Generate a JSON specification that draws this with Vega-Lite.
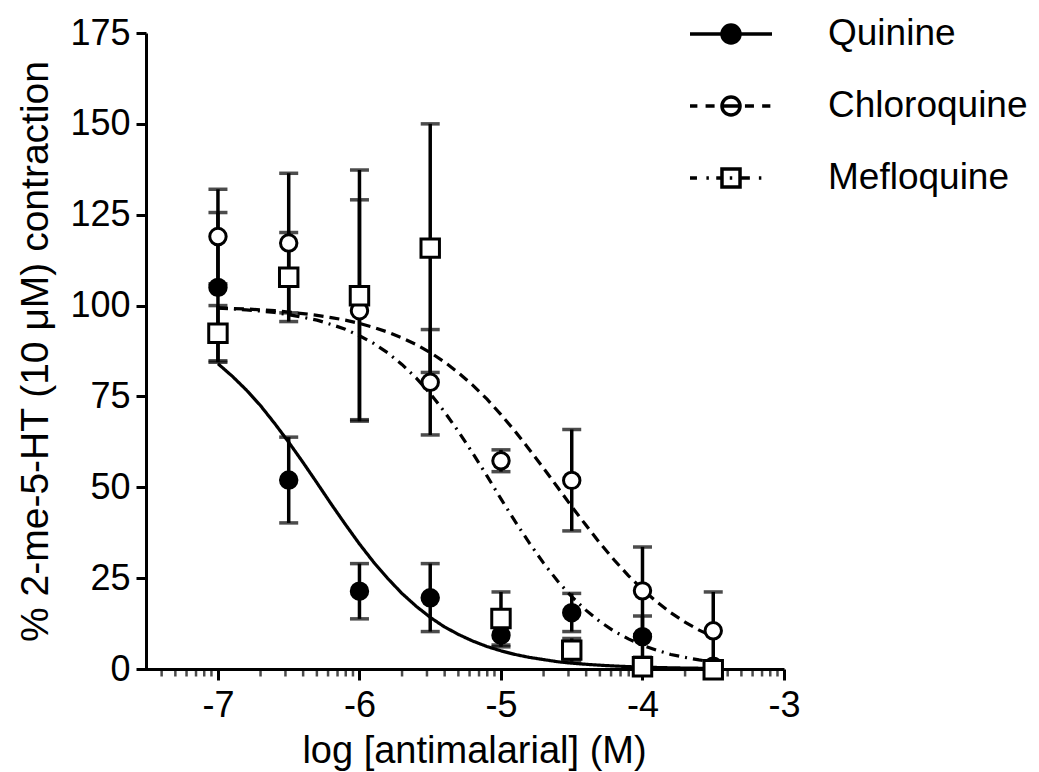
{
  "$schema": "https://vega.github.io/schema/vega-lite/v6.json",
  "autosize": {"type": "none"},
  "width": 646,
  "height": 636,
  "padding": {"left": 138, "top": 33, "right": 255, "bottom": 103},
  "background": "white",
  "config": {
    "view": {"stroke": null},
    "font": "Liberation Sans",
    "axis": {"grid": false, "domainColor": "black", "tickColor": "black", "labelColor": "black", "titleColor": "black", "labelFont": "Liberation Sans", "titleFont": "Liberation Sans", "titleFontWeight": "normal"}
  },
  "datasets": {
    "pts": [
      {"series": "Quinine", "x": -7, "y": 105, "lo": 84.4, "hi": 125.6},
      {"series": "Quinine", "x": -6.5, "y": 52, "lo": 40.2, "hi": 63.8},
      {"series": "Quinine", "x": -6, "y": 21.4, "lo": 13.8, "hi": 29.0},
      {"series": "Quinine", "x": -5.5, "y": 19.6, "lo": 10.3, "hi": 29.0},
      {"series": "Quinine", "x": -5, "y": 9.3, "lo": 6.1, "hi": 12.5},
      {"series": "Quinine", "x": -4.5, "y": 15.5, "lo": 10.3, "hi": 20.8},
      {"series": "Quinine", "x": -4, "y": 8.9, "lo": 3.2, "hi": 14.6},
      {"series": "Quinine", "x": -3.5, "y": 0.8, "lo": 0, "hi": 1.6},
      {"series": "Chloroquine", "x": -7, "y": 119, "lo": 106, "hi": 132},
      {"series": "Chloroquine", "x": -6.5, "y": 117.2, "lo": 98, "hi": 136.4},
      {"series": "Chloroquine", "x": -6, "y": 98.6, "lo": 68.6, "hi": 129.1},
      {"series": "Chloroquine", "x": -5.5, "y": 78.9, "lo": 64.4, "hi": 93.4},
      {"series": "Chloroquine", "x": -5, "y": 57.3, "lo": 54.3, "hi": 60.3},
      {"series": "Chloroquine", "x": -4.5, "y": 51.9, "lo": 38, "hi": 65.9},
      {"series": "Chloroquine", "x": -4, "y": 21.5, "lo": 9.4, "hi": 33.6},
      {"series": "Chloroquine", "x": -3.5, "y": 10.5, "lo": 0, "hi": 21.2},
      {"series": "Mefloquine", "x": -7, "y": 92.4, "lo": 84.8, "hi": 100},
      {"series": "Mefloquine", "x": -6.5, "y": 107.8, "lo": 95.6, "hi": 120.1},
      {"series": "Mefloquine", "x": -6, "y": 102.7, "lo": 68.2, "hi": 137.3},
      {"series": "Mefloquine", "x": -5.5, "y": 115.8, "lo": 81.6, "hi": 150},
      {"series": "Mefloquine", "x": -5, "y": 13.9, "lo": 6.6, "hi": 21.2},
      {"series": "Mefloquine", "x": -4.5, "y": 5.2, "lo": 2, "hi": 8.4},
      {"series": "Mefloquine", "x": -4, "y": 0.6, "lo": 0, "hi": 1.2},
      {"series": "Mefloquine", "x": -3.5, "y": -0.2, "lo": -0.2, "hi": -0.2}
    ],
    "minor": [
      {"x": -7.398}, {"x": -7.301}, {"x": -7.222}, {"x": -7.155}, {"x": -7.097}, {"x": -7.046},
      {"x": -6.699}, {"x": -6.523}, {"x": -6.398}, {"x": -6.301}, {"x": -6.222}, {"x": -6.155}, {"x": -6.097}, {"x": -6.046},
      {"x": -5.699}, {"x": -5.523}, {"x": -5.398}, {"x": -5.301}, {"x": -5.222}, {"x": -5.155}, {"x": -5.097}, {"x": -5.046},
      {"x": -4.699}, {"x": -4.523}, {"x": -4.398}, {"x": -4.301}, {"x": -4.222}, {"x": -4.155}, {"x": -4.097}, {"x": -4.046},
      {"x": -3.699}, {"x": -3.523}, {"x": -3.398}, {"x": -3.301}, {"x": -3.222}, {"x": -3.155}, {"x": -3.097}, {"x": -3.046}
    ],
    "curves": [
      {"series": "Quinine", "x": -7.0, "y": 84.0},
      {"series": "Quinine", "x": -6.9, "y": 80.6},
      {"series": "Quinine", "x": -6.8, "y": 76.8},
      {"series": "Quinine", "x": -6.7, "y": 72.5},
      {"series": "Quinine", "x": -6.6, "y": 67.6},
      {"series": "Quinine", "x": -6.5, "y": 62.4},
      {"series": "Quinine", "x": -6.4, "y": 56.9},
      {"series": "Quinine", "x": -6.3, "y": 51.2},
      {"series": "Quinine", "x": -6.2, "y": 45.4},
      {"series": "Quinine", "x": -6.1, "y": 39.8},
      {"series": "Quinine", "x": -6.0, "y": 34.4},
      {"series": "Quinine", "x": -5.9, "y": 29.4},
      {"series": "Quinine", "x": -5.8, "y": 24.9},
      {"series": "Quinine", "x": -5.7, "y": 20.8},
      {"series": "Quinine", "x": -5.6, "y": 17.3},
      {"series": "Quinine", "x": -5.5, "y": 14.2},
      {"series": "Quinine", "x": -5.4, "y": 11.6},
      {"series": "Quinine", "x": -5.3, "y": 9.5},
      {"series": "Quinine", "x": -5.2, "y": 7.7},
      {"series": "Quinine", "x": -5.1, "y": 6.2},
      {"series": "Quinine", "x": -5.0, "y": 5.0},
      {"series": "Quinine", "x": -4.9, "y": 4.0},
      {"series": "Quinine", "x": -4.8, "y": 3.2},
      {"series": "Quinine", "x": -4.7, "y": 2.6},
      {"series": "Quinine", "x": -4.6, "y": 2.0},
      {"series": "Quinine", "x": -4.5, "y": 1.6},
      {"series": "Quinine", "x": -4.4, "y": 1.3},
      {"series": "Quinine", "x": -4.3, "y": 1.04},
      {"series": "Quinine", "x": -4.2, "y": 0.83},
      {"series": "Quinine", "x": -4.1, "y": 0.66},
      {"series": "Quinine", "x": -4.0, "y": 0.52},
      {"series": "Quinine", "x": -3.9, "y": 0.42},
      {"series": "Quinine", "x": -3.8, "y": 0.33},
      {"series": "Quinine", "x": -3.7, "y": 0.26},
      {"series": "Quinine", "x": -3.6, "y": 0.21},
      {"series": "Quinine", "x": -3.5, "y": 0.17},
      {"series": "Chloroquine", "x": -7.0, "y": 99.4},
      {"series": "Chloroquine", "x": -6.9, "y": 99.2},
      {"series": "Chloroquine", "x": -6.8, "y": 99.1},
      {"series": "Chloroquine", "x": -6.7, "y": 98.8},
      {"series": "Chloroquine", "x": -6.6, "y": 98.6},
      {"series": "Chloroquine", "x": -6.5, "y": 98.2},
      {"series": "Chloroquine", "x": -6.4, "y": 97.8},
      {"series": "Chloroquine", "x": -6.3, "y": 97.3},
      {"series": "Chloroquine", "x": -6.2, "y": 96.7},
      {"series": "Chloroquine", "x": -6.1, "y": 96.0},
      {"series": "Chloroquine", "x": -6.0, "y": 95.1},
      {"series": "Chloroquine", "x": -5.9, "y": 94.0},
      {"series": "Chloroquine", "x": -5.8, "y": 92.7},
      {"series": "Chloroquine", "x": -5.7, "y": 91.1},
      {"series": "Chloroquine", "x": -5.6, "y": 89.3},
      {"series": "Chloroquine", "x": -5.5, "y": 87.1},
      {"series": "Chloroquine", "x": -5.4, "y": 84.5},
      {"series": "Chloroquine", "x": -5.3, "y": 81.5},
      {"series": "Chloroquine", "x": -5.2, "y": 78.1},
      {"series": "Chloroquine", "x": -5.1, "y": 74.3},
      {"series": "Chloroquine", "x": -5.0, "y": 70.0},
      {"series": "Chloroquine", "x": -4.9, "y": 65.4},
      {"series": "Chloroquine", "x": -4.8, "y": 60.4},
      {"series": "Chloroquine", "x": -4.7, "y": 55.3},
      {"series": "Chloroquine", "x": -4.6, "y": 50.0},
      {"series": "Chloroquine", "x": -4.5, "y": 44.7},
      {"series": "Chloroquine", "x": -4.4, "y": 39.6},
      {"series": "Chloroquine", "x": -4.3, "y": 34.6},
      {"series": "Chloroquine", "x": -4.2, "y": 30.0},
      {"series": "Chloroquine", "x": -4.1, "y": 25.7},
      {"series": "Chloroquine", "x": -4.0, "y": 21.9},
      {"series": "Chloroquine", "x": -3.9, "y": 18.5},
      {"series": "Chloroquine", "x": -3.8, "y": 15.5},
      {"series": "Chloroquine", "x": -3.7, "y": 12.9},
      {"series": "Chloroquine", "x": -3.6, "y": 10.7},
      {"series": "Chloroquine", "x": -3.5, "y": 8.9},
      {"series": "Mefloquine", "x": -7.0, "y": 99.3},
      {"series": "Mefloquine", "x": -6.9, "y": 99.1},
      {"series": "Mefloquine", "x": -6.8, "y": 98.8},
      {"series": "Mefloquine", "x": -6.7, "y": 98.5},
      {"series": "Mefloquine", "x": -6.6, "y": 98.1},
      {"series": "Mefloquine", "x": -6.5, "y": 97.5},
      {"series": "Mefloquine", "x": -6.4, "y": 96.8},
      {"series": "Mefloquine", "x": -6.3, "y": 96.0},
      {"series": "Mefloquine", "x": -6.2, "y": 94.8},
      {"series": "Mefloquine", "x": -6.1, "y": 93.5},
      {"series": "Mefloquine", "x": -6.0, "y": 91.7},
      {"series": "Mefloquine", "x": -5.9, "y": 89.6},
      {"series": "Mefloquine", "x": -5.8, "y": 87.0},
      {"series": "Mefloquine", "x": -5.7, "y": 83.8},
      {"series": "Mefloquine", "x": -5.6, "y": 80.1},
      {"series": "Mefloquine", "x": -5.5, "y": 75.8},
      {"series": "Mefloquine", "x": -5.4, "y": 70.8},
      {"series": "Mefloquine", "x": -5.3, "y": 65.3},
      {"series": "Mefloquine", "x": -5.2, "y": 59.4},
      {"series": "Mefloquine", "x": -5.1, "y": 53.2},
      {"series": "Mefloquine", "x": -5.0, "y": 46.8},
      {"series": "Mefloquine", "x": -4.9, "y": 40.6},
      {"series": "Mefloquine", "x": -4.8, "y": 34.7},
      {"series": "Mefloquine", "x": -4.7, "y": 29.2},
      {"series": "Mefloquine", "x": -4.6, "y": 24.2},
      {"series": "Mefloquine", "x": -4.5, "y": 19.9},
      {"series": "Mefloquine", "x": -4.4, "y": 16.2},
      {"series": "Mefloquine", "x": -4.3, "y": 13.0},
      {"series": "Mefloquine", "x": -4.2, "y": 10.4},
      {"series": "Mefloquine", "x": -4.1, "y": 8.3},
      {"series": "Mefloquine", "x": -4.0, "y": 6.5},
      {"series": "Mefloquine", "x": -3.9, "y": 5.2},
      {"series": "Mefloquine", "x": -3.8, "y": 4.0},
      {"series": "Mefloquine", "x": -3.7, "y": 3.2},
      {"series": "Mefloquine", "x": -3.6, "y": 2.5},
      {"series": "Mefloquine", "x": -3.5, "y": 1.9}
    ]
  },
  "layer": [
    {
      "data": {"name": "curves"},
      "mark": {"type": "line", "color": "black", "strokeWidth": 3.2},
      "encoding": {
        "x": {"field": "x", "type": "quantitative", "scale": {"domain": [-7.565, -3], "nice": false, "zero": false},
          "axis": {
            "title": "log [antimalarial] (M)",
            "values": [-7, -6, -5, -4, -3],
            "labelExpr": "'' + round(datum.value)",
            "labelFlush": false,
            "labelFontSize": 36,
            "labelPadding": 8,
            "domainWidth": 3,
            "tickSize": 11,
            "tickWidth": 3,
            "titleFontSize": 38,
            "titleX": 336,
            "titleY": 93,
            "titleBaseline": "alphabetic"
          }
        },
        "y": {"field": "y", "type": "quantitative", "scale": {"domain": [0, 175], "nice": false},
          "axis": {
            "title": "% 2-me-5-HT (10 μM) contraction",
            "values": [0, 25, 50, 75, 100, 125, 150, 175],
            "offset": -8,
            "labelFontSize": 36,
            "labelPadding": 6,
            "domainWidth": 3,
            "tickSize": 10,
            "tickWidth": 3,
            "titleFontSize": 39,
            "titlePadding": 14
          }
        },
        "detail": {"field": "series"},
        "strokeDash": {
          "condition": [
            {"test": "datum.series === 'Chloroquine'", "value": [10, 6]},
            {"test": "datum.series === 'Mefloquine'", "value": [10, 6, 2, 6]}
          ],
          "value": [1, 0]
        }
      }
    },
    {
      "data": {"name": "minor"},
      "mark": {"type": "tick", "orient": "vertical", "color": "black", "size": 6, "thickness": 2.5, "yOffset": 4.5},
      "encoding": {
        "x": {"field": "x", "type": "quantitative"},
        "y": {"datum": 0, "type": "quantitative"}
      }
    },
    {
      "data": {"name": "pts"},
      "mark": {"type": "rule", "color": "black", "strokeWidth": 3.5},
      "encoding": {
        "x": {"field": "x", "type": "quantitative"},
        "y": {"field": "lo", "type": "quantitative"},
        "y2": {"field": "hi"}
      }
    },
    {
      "data": {"name": "pts"},
      "mark": {"type": "tick", "orient": "horizontal", "color": "black", "size": 19, "thickness": 3.5},
      "encoding": {
        "x": {"field": "x", "type": "quantitative"},
        "y": {"field": "lo", "type": "quantitative"}
      }
    },
    {
      "data": {"name": "pts"},
      "mark": {"type": "tick", "orient": "horizontal", "color": "black", "size": 19, "thickness": 3.5},
      "encoding": {
        "x": {"field": "x", "type": "quantitative"},
        "y": {"field": "hi", "type": "quantitative"}
      }
    },
    {
      "data": {"name": "pts"},
      "mark": {"type": "point", "stroke": "black", "strokeWidth": 3, "opacity": 1, "filled": false},
      "encoding": {
        "x": {"field": "x", "type": "quantitative"},
        "y": {"field": "y", "type": "quantitative"},
        "shape": {"condition": {"test": "datum.series === 'Mefloquine'", "value": "square"}, "value": "circle"},
        "fill": {"condition": {"test": "datum.series === 'Quinine'", "value": "black"}, "value": "white"},
        "size": {"condition": {"test": "datum.series === 'Mefloquine'", "value": 340}, "value": 270}
      }
    },
    {
      "data": {"name": "pts"},
      "transform": [{"filter": "datum.y > 1000"}],
      "mark": {"type": "point", "strokeWidth": 3.5, "opacity": 1, "filled": false, "size": 6724},
      "encoding": {
        "x": {"field": "x", "type": "quantitative"},
        "y": {"field": "y", "type": "quantitative"},
        "shape": {"field": "series", "type": "nominal",
          "scale": {"domain": ["Quinine", "Chloroquine", "Mefloquine"],
            "range": [
              "M-1,0H1M0.22,0C0.22,0.1215,0.1215,0.22,0,0.22C-0.1215,0.22,-0.22,0.1215,-0.22,0C-0.22,-0.1215,-0.1215,-0.22,0,-0.22C0.1215,-0.22,0.22,-0.1215,0.22,0Z",
              "M-1,0H-0.82M-0.62,0H-0.4M-0.22,0H0.22M0.34,0H0.56M0.76,0H0.96M0.22,0C0.22,0.1215,0.1215,0.22,0,0.22C-0.1215,0.22,-0.22,0.1215,-0.22,0C-0.22,-0.1215,-0.1215,-0.22,0,-0.22C0.1215,-0.22,0.22,-0.1215,0.22,0Z",
              "M-1,0H-0.83M-0.6,0H-0.54M-0.36,0H-0.22M-0.03,0H0.03M0.22,0H0.46M0.68,0H0.74M-0.22,-0.22H0.22V0.22H-0.22Z"
            ]},
          "legend": {
            "title": null,
            "orient": "none",
            "legendX": 550,
            "legendY": -42,
            "padding": 0,
            "symbolSize": 6724,
            "symbolStrokeWidth": 3.5,
            "labelFontSize": 37,
            "labelFont": "Liberation Sans",
            "labelColor": "black",
            "labelOffset": 54,
            "labelLimit": 400,
            "rowPadding": 11
          }
        },
        "fill": {"field": "series", "type": "nominal",
          "scale": {"domain": ["Quinine", "Chloroquine", "Mefloquine"], "range": ["black", "transparent", "transparent"]}},
        "stroke": {"field": "series", "type": "nominal",
          "scale": {"domain": ["Quinine", "Chloroquine", "Mefloquine"], "range": ["black", "black", "black"]}},
        "strokeWidth": {"field": "series", "type": "nominal",
          "scale": {"domain": ["Quinine", "Chloroquine", "Mefloquine"], "range": [3.5, 3.5, 3.5]}}
      }
    }
  ]
}
